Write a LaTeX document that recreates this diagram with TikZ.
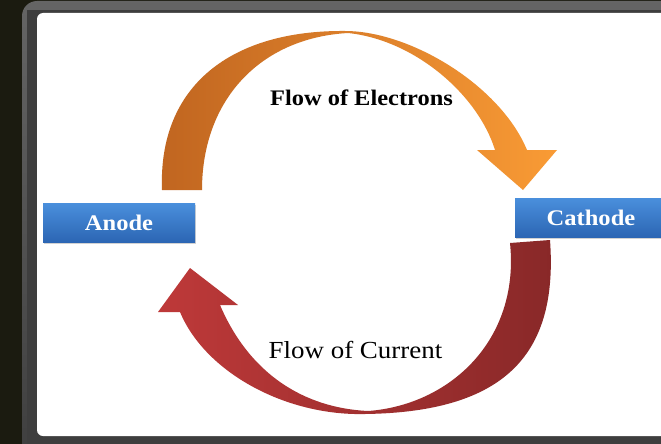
\documentclass[tikz,border=0pt]{standalone}
\usepackage{fontspec}
\setmainfont{Liberation Serif}[FakeStretch=1.1]
\usetikzlibrary{shadows}
\definecolor{bg}{HTML}{1B1B10}
\definecolor{frame}{HTML}{3E3E3E}
\definecolor{boxtop}{HTML}{4A8FDC}
\definecolor{boxbot}{HTML}{2C66B4}
\definecolor{orangedark}{HTML}{C06520}
\definecolor{orangelight}{HTML}{F99B35}
\definecolor{redleft}{HTML}{BE3939}
\definecolor{redmid}{HTML}{DA4646}
\definecolor{redright}{HTML}{882828}
\tikzset{%
    electrode/.style={
      rectangle,
      top color=boxtop,
      bottom color=boxbot,
      minimum width=152pt,
      minimum height=39pt,
      inner sep=0pt,
      text=white,
      font=\fontsize{22.3}{24}\selectfont\bfseries,
      drop shadow={shadow xshift=1pt, shadow yshift=-2pt, opacity=0.35}
    },
    flowtext/.style={
      anchor=base,
      inner sep=0pt,
      text=black
    }
  }

\begin{document}
\begin{tikzpicture}[x=1pt, y=-1pt]
      \useasboundingbox (0,0) rectangle (661,444);
      \clip (0,0) rectangle (661,444);
      \fill [bg] (0,0) rectangle (661,444);
      \shade [top color=frame!80!white, bottom color=frame, rounded corners=15pt] (22,1) rectangle (700,470);
      \fill [frame] (27,10) rectangle (695,465);
      \fill [white, rounded corners=6pt] (37,13) rectangle (690,436);

      \node [electrode] (anode) at (119,222.5) {Anode};
      \node [electrode] (cathode) at (591,217.5) {Cathode};

      % electrons: anode to cathode
      \shade [left color=orangedark, right color=orangelight]
        (202,190) -- (162,190)
        .. controls (158,85) and (232,30) .. (345,31)
        .. controls (410,31) and (500,85) .. (527,150)
        -- (557,150) -- (523,190) -- (477,150) -- (495,150)
        .. controls (478,95) and (415,40) .. (348,33)
        .. controls (260,38) and (202,100) .. (202,190) -- cycle;

      % current: cathode back to anode
      \shade [left color=redleft, middle color=redmid, right color=redright]
        (510,243) -- (550,240)
        .. controls (558,350) and (510,412) .. (365,414)
        .. controls (285,416) and (205,372) .. (180,312)
        -- (158,312) -- (190,268) -- (238,305) -- (220,305)
        .. controls (250,375) and (305,408) .. (368,411)
        .. controls (450,405) and (520,340) .. (510,243) -- cycle;

      \node [flowtext, font=\fontsize{22.2}{24}\selectfont\bfseries] (electrons) at (361.5,105) {Flow of Electrons};
      \node [flowtext, font=\fontsize{24.5}{26}\selectfont] (current) at (355.5,358) {Flow of Current};

    \end{tikzpicture}
\end{document}
